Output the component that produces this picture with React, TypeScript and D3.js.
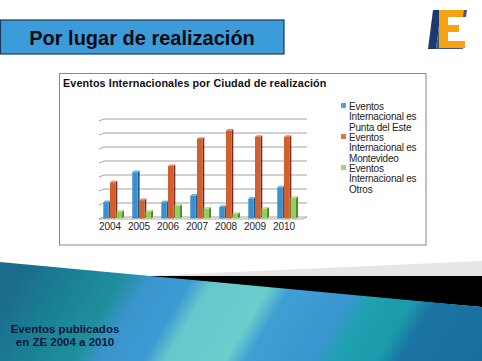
import * as d3 from "d3";

const years = ["2004", "2005", "2006", "2007", "2008", "2009", "2010"];
const seriesNames = [
  ["Eventos", "Internacional es", "Punta del Este"],
  ["Eventos", "Internacional es", "Montevideo"],
  ["Eventos", "Internacional es", "Otros"],
];
const puntaDelEste = [5.3, 16, 5.3, 7.6, 3.6, 6.6, 10.6];
const montevideo = [12.4, 6, 18.2, 27.9, 30.9, 28.6, 28.6];
const otros = [1.9, 1.9, 4, 3, 1.1, 3, 6.8];
const gridTicks = [0, 5, 10, 15, 20, 25, 30, 35];

const series = [puntaDelEste, montevideo, otros];
const colors = [
  { front: "#3b8fce", side: "#1d5a8a", top: "#72b3e2" },
  { front: "#d2602f", side: "#7a2a1c", top: "#e88c66" },
  { front: "#93cf5b", side: "#3f7a28", top: "#bde28e" },
];

const W = 482;
const H = 361;

export default function App() {
  const x = d3.scaleBand().domain(years).range([100, 303]);
  const y = d3.scaleLinear().domain([0, 35]).range([217, 119]);
  const barW = 5.5;
  const dx = 1.8;
  const dy = 1.6;
  const offs = [3.3, 10, 16.6];

  const font = "'Liberation Sans', Arial, sans-serif";

  return (
    <svg width={W} height={H} style={{ position: "absolute", left: 0, top: 0 }} fontFamily={font}>
      <defs>
        <linearGradient id="band" gradientUnits="userSpaceOnUse" x1="0" y1="300" x2="400" y2="540">
          <stop offset="0" stopColor="#1c6a8c" />
          <stop offset="0.1" stopColor="#1a7f95" />
          <stop offset="0.2" stopColor="#1f8f9c" />
          <stop offset="0.25" stopColor="#3a95cc" />
          <stop offset="0.33" stopColor="#3d9bd3" />
          <stop offset="0.37" stopColor="#66c8cc" />
          <stop offset="0.48" stopColor="#6ccdcc" />
          <stop offset="0.52" stopColor="#3f9fd3" />
          <stop offset="0.64" stopColor="#3a96cf" />
          <stop offset="0.68" stopColor="#1ea1b2" />
          <stop offset="0.76" stopColor="#1a9aab" />
          <stop offset="0.8" stopColor="#1b74a4" />
          <stop offset="1" stopColor="#176b9c" />
        </linearGradient>
      </defs>
      <rect width={W} height={H} fill="#ffffff" />

      {/* title box */}
      <rect x={0.5} y={20} width={283.5} height={34} fill="#3c9cd9" stroke="#1c3a58" strokeWidth={1.2} />
      <text x={142} y={45} textAnchor="middle" fontSize={20} fontWeight="bold" fill="#0a0a14">
        Por lugar de realización
      </text>

      {/* logo */}
      <polygon points="433,10 441,10 436,49 428,49" fill="#1b3b6e" />
      <polygon points="441,10 467,10 466,17 446,17 440,41 464,41 463,49 436,49" fill="#1b3b6e" opacity={0.85} />
      <polygon
        points="439,10 464,10 463,17 448,17 448,25 459,25 459,32 448,32 448,41 465,41 465,48 439,48"
        fill="#f6a212"
      />

      {/* chart frame */}
      <rect x={59.5} y={73.5} width={366.5} height={171.5} fill="#fff" stroke="#888" strokeWidth={1} />
      <text x={63} y={87} fontSize={10.8} fontWeight="bold" fill="#111" letterSpacing={0.1}>
        Eventos Internacionales por Ciudad de realización
      </text>

      {/* gridlines */}
      {gridTicks.map((t) => (
        <g key={t} stroke="#8a8a8a" strokeWidth={0.8}>
          <line x1={104} x2={307} y1={y(t)} y2={y(t)} />
          <line x1={99} x2={104} y1={y(t) + 2} y2={y(t)} />
        </g>
      ))}
      <line x1={99} x2={303} y1={219} y2={219} stroke="#9a9a9a" strokeWidth={0.8} />
      <line x1={303} x2={307} y1={219} y2={217} stroke="#9a9a9a" strokeWidth={0.8} />

      {/* bars */}
      {years.map((yr, i) =>
        series.map((s, k) => {
          const x0 = (x(yr) as number) + offs[k];
          const yt = y(s[i]);
          const yb = 218.5;
          const c = colors[k];
          return (
            <g key={yr + k}>
              <polygon
                points={`${x0 + barW},${yt} ${x0 + barW + dx},${yt - dy} ${x0 + barW + dx},${yb - dy} ${x0 + barW},${yb}`}
                fill={c.side}
              />
              <polygon
                points={`${x0},${yt} ${x0 + dx},${yt - dy} ${x0 + barW + dx},${yt - dy} ${x0 + barW},${yt}`}
                fill={c.top}
              />
              <rect x={x0} y={yt} width={barW} height={yb - yt} fill={c.front} />
            </g>
          );
        })
      )}

      {/* x labels */}
      {years.map((yr) => (
        <text key={yr} x={(x(yr) as number) + 10} y={230} textAnchor="middle" fontSize={10} fill="#222">
          {yr}
        </text>
      ))}

      {/* legend */}
      {seriesNames.map((lines, k) => (
        <g key={k}>
          <rect x={341} y={103 + k * 31} width={5} height={5} fill={colors[k].front} opacity={0.85} />
          {lines.map((ln, j) => (
            <text key={j} x={349} y={110 + k * 31 + j * 10.3} fontSize={10} fill="#222" letterSpacing={-0.2}>
              {ln}
            </text>
          ))}
        </g>
      ))}

      {/* bottom decoration */}
      <polygon points="143,276 482,261 482,276" fill="#e6e6e6" />
      <polygon points="120,276 482,276 482,307" fill="#000" />
      <polygon points={`0,262 482,307 482,${H} 0,${H}`} fill="url(#band)" />
      <text x={65} y={333} textAnchor="middle" fontSize={11.5} fontWeight="bold" fill="#0b1838">
        Eventos publicados
      </text>
      <text x={65} y={346} textAnchor="middle" fontSize={11.5} fontWeight="bold" fill="#0b1838">
        en ZE 2004 a 2010
      </text>
    </svg>
  );
}
